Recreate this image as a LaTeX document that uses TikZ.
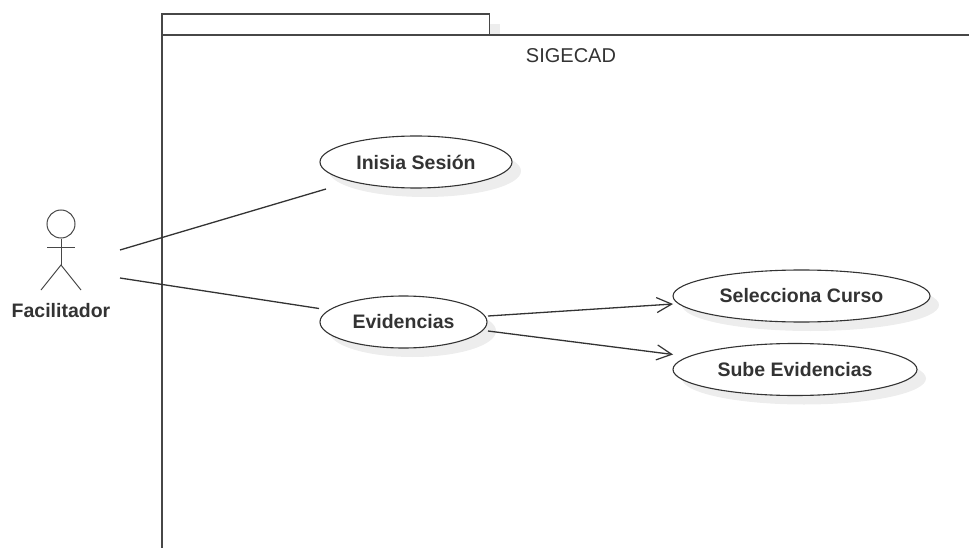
\documentclass[tikz,border=0pt]{standalone}
\usepackage{fontspec}
\setmainfont{Liberation Sans}
\usetikzlibrary{shapes.geometric,arrows.meta,shadows}
\definecolor{ink}{HTML}{333333}
\tikzset{
  x=1pt,y=-1pt,
  usecase/.style={ellipse,draw=ink,line width=1.1pt,fill=white,inner sep=0pt,minimum height=52pt,
    text=ink,font=\bfseries\fontsize{19.5}{22}\selectfont,
    drop shadow={shadow xshift=9pt,shadow yshift=-9pt,fill=black!7,opacity=1}},
  conn/.style={draw=ink,line width=1.3pt},
  flow/.style={conn,-{Straight Barb[length=15pt,width=15pt,line width=1.2pt]}},
  pkg/.style={draw=ink!90,line width=1.4pt},
  stick/.style={draw=ink!90,line width=1pt},
}
\begin{document}
\begin{tikzpicture}
\useasboundingbox (0,0) rectangle (969,548);
% package
\fill[black!7] (480,24) rectangle (500,35);
\draw[pkg,fill=white] (162,35) -- (162,14) -- (489.5,14) -- (489.5,35);
\draw[pkg] (162,548) -- (162,35) -- (969,35);
\node[font=\fontsize{20}{22}\selectfont,text=ink] (title) at (571,56) {SIGECAD};
% actor
\node[circle,stick,minimum size=28pt,inner sep=0pt] (head) at (61,224) {};
\coordinate (hip) at (61,265);
\coordinate (armL) at (47,247);
\coordinate (armR) at (75,247);
\coordinate (legL) at (41,290);
\coordinate (legR) at (81,290);
\draw[stick] (head.south) -- (hip);
\draw[stick] (armL) -- (armR);
\draw[stick] (legL) -- (hip) -- (legR);
\node[font=\bfseries\fontsize{19.5}{22}\selectfont,text=ink] (actor) at (61,311) {Facilitador};
% use cases
\node[usecase,minimum width=192pt] (ini) at (416,162) {Inisia Sesión};
\node[usecase,minimum width=167pt] (evi) at (403.5,322) {Evidencias};
\node[usecase,minimum width=257pt] (sel) at (801.5,296) {Selecciona Curso};
\node[usecase,minimum width=244pt] (sub) at (795,369.5) {Sube Evidencias};
% connector ends
\coordinate (a1) at (120,250);
\coordinate (a2) at (120,278);
\coordinate (i1) at (326,189);
\coordinate (e1) at (319,308.5);
\coordinate (e2) at (488,316);
\coordinate (e3) at (488,331);
\coordinate (s1) at (673,304);
\coordinate (s2) at (673,354.5);
\draw[conn] (a1) -- (i1);
\draw[conn] (a2) -- (e1);
\draw[flow] (e2) -- (s1);
\draw[flow] (e3) -- (s2);
\end{tikzpicture}
\end{document}
